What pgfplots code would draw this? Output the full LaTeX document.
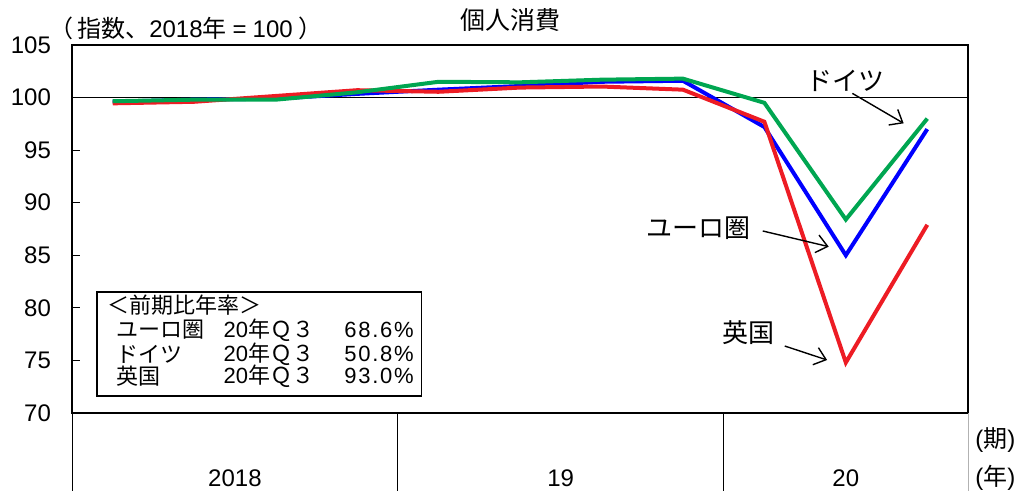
\documentclass[border=0pt]{standalone}
\usepackage{fontspec}
\setmainfont{Liberation Sans}
\newfontfamily\cjk{Noto Sans CJK JP}
\usepackage{pgfplots}
\pgfplotsset{compat=1.18}
\usetikzlibrary{arrows.meta}

\definecolor{euro}{RGB}{0,0,255}
\definecolor{ger}{RGB}{0,166,81}
\definecolor{uk}{RGB}{237,28,36}

\begin{document}
\begin{tikzpicture}
\path[use as bounding box] (0,0) rectangle (510pt,245.5pt);
\begin{axis}[
  at={(36pt,39pt)}, anchor=south west,
  width=448pt, height=184pt, scale only axis,
  xmin=-0.5, xmax=10.5, ymin=70, ymax=105,
  ytick={70,75,...,105}, ytick pos=left,
  xtick={1.5,5.5,9}, xticklabels={2018,19,20},
  x tick style={draw=none},
  xticklabel style={anchor=center, yshift=-32.5pt},
  yticklabel style={xshift=-7pt},
  y tick style={black, line width=0.5pt},
  tick align=inside, major tick length=4pt,
  axis line style={line width=1.3pt},
  ticklabel style={font=\fontsize{12}{14}\selectfont},
  /pgf/number format/assume math mode=true,
  extra y ticks={100}, extra y tick labels={},
  extra y tick style={grid=major, major grid style={black, line width=0.6pt}},
  clip=false,
]
\addplot[euro, line width=2pt] coordinates {
  (0,99.6) (1,99.8) (2,99.9) (3,100.35) (4,100.75) (5,101.1)
  (6,101.5) (7,101.6) (8,97.2) (9,85.0) (10,97.0)};
\addplot[uk, line width=2pt] coordinates {
  (0,99.45) (1,99.6) (2,100.15) (3,100.7) (4,100.55) (5,100.95)
  (6,101.05) (7,100.75) (8,97.7) (9,74.8) (10,87.9)};
\addplot[ger, line width=2pt] coordinates {
  (0,99.65) (1,99.8) (2,99.8) (3,100.5) (4,101.5) (5,101.45)
  (6,101.7) (7,101.8) (8,99.5) (9,88.4) (10,98.0)};

% year separators below the plot area
\draw[black, line width=0.5pt] (axis cs:-0.5,70) -- ([yshift=-40pt]axis cs:-0.5,70);
\draw[black, line width=0.5pt] (axis cs:3.5,70) -- ([yshift=-40pt]axis cs:3.5,70);
\draw[black, line width=0.5pt] (axis cs:7.5,70) -- ([yshift=-40pt]axis cs:7.5,70);
\draw[black!30, line width=0.5pt] (axis cs:10.5,70) -- ([yshift=-40pt]axis cs:10.5,70);

% annotations
\node[font=\fontsize{13}{15}\selectfont\cjk] at (axis cs:9.0,101.6) {ドイツ};
\draw[line width=0.7pt, -{Straight Barb[length=5.5pt,width=9pt]}] (axis cs:9.08,100.4) -- (axis cs:9.71,97.55);
\node[font=\fontsize{13}{15}\selectfont\cjk] at (axis cs:7.19,87.6) {ユーロ圏};
\draw[line width=0.7pt, -{Straight Barb[length=5.5pt,width=9pt]}] (axis cs:7.98,87.31) -- (axis cs:8.79,85.82);
\node[font=\fontsize{13}{15}\selectfont\cjk] at (axis cs:7.8,77.65) {英国};
\draw[line width=0.7pt, -{Straight Barb[length=5.5pt,width=9pt]}] (axis cs:8.25,76.37) -- (axis cs:8.77,75.04);

% growth-rate box
\draw[line width=0.8pt, fill=white] (axis cs:-0.196,81.51) rectangle (axis cs:3.79,71.62);
\node[anchor=west, inner sep=0pt, font=\fontsize{11}{13}\selectfont\cjk] at (axis cs:-0.07,80.27) {＜前期比年率＞};
\node[anchor=west, inner sep=0pt, font=\fontsize{11}{13}\selectfont\cjk] at (axis cs:0.038,77.89) {ユーロ圏};
\node[anchor=west, inner sep=0pt, font=\fontsize{11}{13}\selectfont\cjk] at (axis cs:0.038,75.61) {ドイツ};
\node[anchor=west, inner sep=0pt, font=\fontsize{11}{13}\selectfont\cjk] at (axis cs:0.038,73.52) {英国};
\node[anchor=west, inner sep=0pt, font=\fontsize{11}{13}\selectfont] at (axis cs:1.358,77.89) {20{\cjk 年Ｑ３}};
\node[anchor=west, inner sep=0pt, font=\fontsize{11}{13}\selectfont] at (axis cs:1.358,75.61) {20{\cjk 年Ｑ３}};
\node[anchor=west, inner sep=0pt, font=\fontsize{11}{13}\selectfont] at (axis cs:1.358,73.52) {20{\cjk 年Ｑ３}};
\node[anchor=east, inner sep=0pt, font=\fontsize{11}{13}\selectfont\addfontfeature{LetterSpace=8}] at (axis cs:3.70,77.89) {68.6\%};
\node[anchor=east, inner sep=0pt, font=\fontsize{11}{13}\selectfont\addfontfeature{LetterSpace=8}] at (axis cs:3.70,75.61) {50.8\%};
\node[anchor=east, inner sep=0pt, font=\fontsize{11}{13}\selectfont\addfontfeature{LetterSpace=8}] at (axis cs:3.70,73.52) {93.0\%};
\end{axis}

\node[font=\fontsize{12.5}{15}\selectfont\cjk] at (255pt,235.5pt) {個人消費};
\node[font=\fontsize{12}{14}\selectfont] at (93pt,231.5pt) {{\cjk （\hspace{2pt}指数、}2018{\cjk 年}\hspace{3pt}=\hspace{3pt}100\hspace{3pt}{\cjk ）}};
\node[anchor=west, inner sep=0pt, font=\fontsize{12}{14}\selectfont] at (487.5pt,25.5pt) {({\cjk 期})};
\node[anchor=west, inner sep=0pt, font=\fontsize{12}{14}\selectfont] at (487.5pt,6.5pt) {({\cjk 年})};
\end{tikzpicture}
\end{document}
